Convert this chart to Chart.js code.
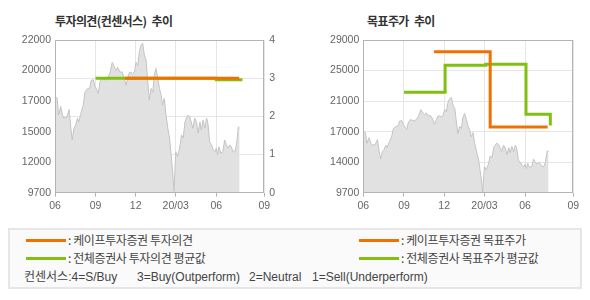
<!DOCTYPE html>
<html>
<head>
<meta charset="utf-8">
<script src="https://cdn.jsdelivr.net/npm/chart.js@4"></script>
<style>
  body { margin: 0; width: 590px; height: 300px; background: #fff; position: relative; overflow: hidden;
         font-family: 'Noto Sans CJK KR', sans-serif; }
  canvas { position: absolute; top: 0; }
  #opinionChart { left: 0; }
  #targetChart { left: 295px; }
  .title { position: absolute; top: 13px; font-size: 12px; line-height: 15px; font-weight: bold; color: #333;
           letter-spacing: -0.6px; word-spacing: 3px; }
  .legend { position: absolute; left: 8px; top: 228px; width: 574px; height: 61px; box-sizing: border-box;
            border: 2px solid #e6e6e6; background: #fafafa; }
  .swatch { position: absolute; width: 40px; height: 3px; }
  .item { position: absolute; font-size: 12px; line-height: 14px; color: #444; letter-spacing: -0.4px; white-space: nowrap; }
  .note { position: absolute; top: 270px; font-family: 'Liberation Sans', 'Noto Sans CJK KR', sans-serif;
          font-size: 12px; line-height: 14px; color: #444; white-space: nowrap; }
</style>
</head>
<body>
<div class="title" style="left:55px">투자의견(컨센서스) 추이</div>
<div class="title" style="left:367px">목표주가 추이</div>
<canvas id="opinionChart" width="295" height="215"></canvas>
<canvas id="targetChart" width="295" height="215"></canvas>

<div class="legend"></div>
<div class="swatch" style="left:26px;top:239px;background:#f07000"></div>
<div class="item" style="left:68px;top:233px">: 케이프투자증권 투자의견</div>
<div class="swatch" style="left:26px;top:257px;background:#80c010"></div>
<div class="item" style="left:68px;top:251px">: 전체증권사 투자의견 평균값</div>
<div class="swatch" style="left:359px;top:239px;background:#f07000"></div>
<div class="item" style="left:401px;top:233px">: 케이프투자증권 목표주가</div>
<div class="swatch" style="left:359px;top:257px;background:#80c010"></div>
<div class="item" style="left:401px;top:251px">: 전체증권사 목표주가 평균값</div>
<div class="note" style="left:24px">컨센서스:4=S/Buy</div>
<div class="note" style="left:137px">3=Buy(Outperform)</div>
<div class="note" style="left:249px">2=Neutral</div>
<div class="note" style="left:312px">1=Sell(Underperform)</div>

<script>
// x axis is days counted from 2019-06
const xTickDays = [0, 92, 183, 274, 366, 475];
const xTickLabels = ['06', '09', '12', '20/03', '06', '09'];

const priceDays = [0, 5, 8, 13, 17, 20, 27, 32, 36, 39, 43, 47, 51, 54, 58, 64, 68, 73, 79, 82,
  87, 90, 95, 98, 102, 107, 115, 120, 125, 130, 136, 139, 142, 148, 152, 157, 161, 165, 169, 173,
  176, 180, 184, 188, 191, 195, 199, 203, 207, 210, 214, 218, 222, 225, 229, 233, 237, 241, 244, 248,
  252, 256, 260, 263, 267, 270, 274, 278, 283, 287, 291, 295, 298, 302, 306, 309, 313, 317, 321, 325,
  329, 332, 336, 340, 344, 347, 351, 355, 359, 363, 366, 369, 372, 376, 381, 385, 389, 393, 397, 400,
  404, 408, 412, 416, 419];
const prices = [17500, 17300, 15950, 16650, 15950, 15700, 15800, 16400, 14900, 13950, 14900, 15150, 15700, 15400, 16000, 16750, 17800, 18050, 18150, 18750,
  18800, 18350, 17950, 17700, 18600, 18950, 18750, 18950, 19400, 20200, 19700, 19550, 19800, 19400, 19450, 19000, 18350, 18900, 19400, 19400,
  19300, 19400, 20200, 19950, 21000, 21550, 21750, 20750, 20350, 18900, 17150, 18100, 17800, 19150, 19700, 19000, 18100, 17550, 16750, 17300,
  15950, 14900, 14100, 13000, 11400, 9800, 13000, 12600, 13300, 14350, 14100, 15400, 15700, 15950, 15800, 15400, 14900, 15700, 15400, 14500,
  15400, 14750, 15550, 14900, 15700, 15300, 13800, 13550, 13150, 13000, 13300, 12750, 13400, 12900, 13000, 13950, 13550, 13300, 13550, 13400,
  13000, 13000, 13550, 15000, 14900];

const leftPriceTicks = [9700, 12160, 14620, 17080, 19540, 22000];
const leftPriceLabels = ['9700', '12000', '15000', '17000', '20000', '22000'];
const rightPriceTicks = [9700, 13560, 17420, 21280, 25140, 29000];
const rightPriceLabels = ['9700', '14000', '17000', '21000', '25000', '29000'];

const capeOpinionDays = [159, 418];
const capeOpinion = [3, 3];
const avgOpinionDays = [92, 366, 422];
const avgOpinion = [3, 2.96, 3];

const capeTargetDays = [160, 287, 417];
const capeTarget = [27500, 18000, 18000];
const avgTargetDays = [92, 185, 277, 368, 423];
const avgTarget = [22400, 25800, 25950, 19600, 18200];

const ORANGE = '#f07000';
const GREEN = '#80c010';
const GRID = '#e6e6e6';
const FRAME = '#b4b4b4';

Chart.defaults.font.family = "'Liberation Sans', Arial, sans-serif";
Chart.defaults.font.size = 10.5;
Chart.defaults.color = '#666';

const zip = (xs, ys) => xs.map((x, i) => ({ x: x, y: ys[i] }));

const frame = {
  id: 'frame',
  afterDraw(chart) {
    const { ctx, chartArea: a } = chart;
    ctx.save();
    ctx.strokeStyle = FRAME;
    ctx.lineWidth = 1;
    ctx.strokeRect(Math.round(a.left) + 0.5, Math.round(a.top) + 0.5,
      Math.round(a.right - a.left) - 1, Math.round(a.bottom - a.top) - 1);
    ctx.restore();
  }
};

function priceSet() {
  return {
    data: zip(priceDays, prices),
    borderColor: '#c4c4c4',
    borderWidth: 1,
    backgroundColor: '#e1e1e1',
    fill: 'start',
    pointRadius: 0,
    order: 3
  };
}

function stepSet(xs, ys, color, order, axis) {
  return {
    data: zip(xs, ys),
    borderColor: color,
    borderWidth: 3,
    borderCapStyle: 'butt',
    stepped: true,
    fill: false,
    pointRadius: 0,
    order: order,
    yAxisID: axis
  };
}

function xScale() {
  return {
    type: 'linear',
    min: 0,
    max: 475,
    afterBuildTicks: s => { s.ticks = xTickDays.map(v => ({ value: v })); },
    afterFit: s => { s.height = 22.3; },
    ticks: { callback: (v, i) => xTickLabels[i], autoSkip: false, maxRotation: 0, padding: 3 },
    grid: { color: GRID, tickColor: FRAME, tickLength: 4 },
    border: { display: false }
  };
}

function priceScale(ticks, labels, max, width, showGrid) {
  return {
    position: 'left',
    min: 9700,
    max: max,
    afterBuildTicks: s => { s.ticks = ticks.map(v => ({ value: v })); },
    afterFit: s => { s.width = width; },
    ticks: { callback: (v, i) => labels[i], padding: 4 },
    grid: { display: showGrid, color: GRID, drawTicks: false },
    border: { display: false }
  };
}

const common = {
  responsive: false,
  animation: false,
  events: [],
  plugins: { legend: { display: false }, tooltip: { enabled: false } }
};

new Chart(document.getElementById('opinionChart'), {
  type: 'line',
  data: {
    datasets: [
      stepSet(capeOpinionDays, capeOpinion, ORANGE, 1, 'y1'),
      stepSet(avgOpinionDays, avgOpinion, GREEN, 2, 'y1'),
      priceSet()
    ]
  },
  options: Object.assign({}, common, {
    layout: { padding: { left: 0, right: 0, top: 40, bottom: 0 } },
    scales: {
      x: xScale(),
      y: priceScale(leftPriceTicks, leftPriceLabels, 22000, 55, false),
      y1: {
        position: 'right',
        min: 0,
        max: 4,
        ticks: { stepSize: 1, padding: 5 },
        afterFit: s => { s.width = 30.7; },
        grid: { color: GRID, drawTicks: false },
        border: { display: false }
      }
    }
  }),
  plugins: [frame]
});

new Chart(document.getElementById('targetChart'), {
  type: 'line',
  data: {
    datasets: [
      stepSet(capeTargetDays, capeTarget, ORANGE, 1, 'y'),
      stepSet(avgTargetDays, avgTarget, GREEN, 2, 'y'),
      priceSet()
    ]
  },
  options: Object.assign({}, common, {
    layout: { padding: { left: 0, right: 16.7, top: 40, bottom: 0 } },
    scales: {
      x: xScale(),
      y: priceScale(rightPriceTicks, rightPriceLabels, 29000, 68.3, true)
    }
  }),
  plugins: [frame]
});
</script>
</body>
</html>
